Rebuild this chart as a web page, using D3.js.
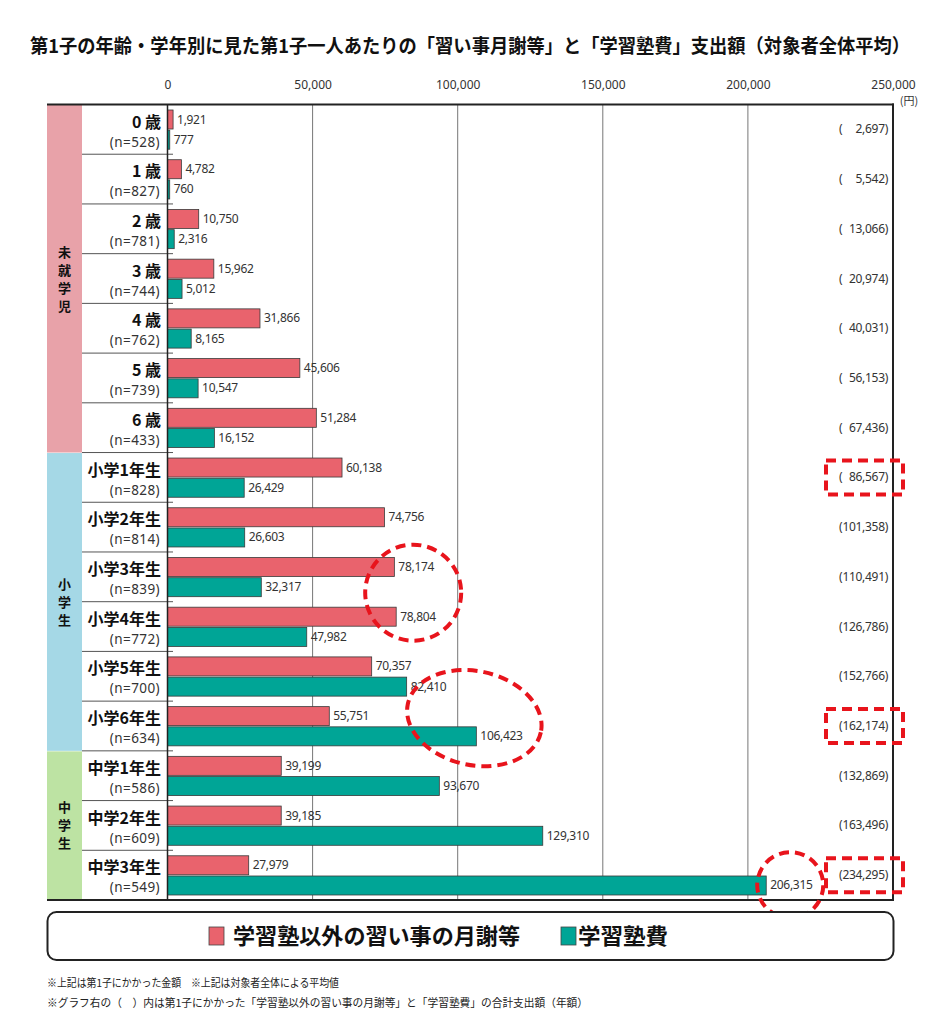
<!DOCTYPE html>
<html><head><meta charset="utf-8">
<script src="https://cdn.jsdelivr.net/npm/d3@7"></script>
<style>
body{margin:0;background:#fff;}
svg{display:block;font-family:"Noto Sans CJK JP","Noto Sans",sans-serif;}
</style></head>
<body><svg id="c" width="945" height="1024"></svg>
<script>
const categories = ["0 歳","1 歳","2 歳","3 歳","4 歳","5 歳","6 歳","小学1年生","小学2年生","小学3年生","小学4年生","小学5年生","小学6年生","中学1年生","中学2年生","中学3年生"];
const nValues = [528,827,781,744,762,739,433,828,814,839,772,700,634,586,609,549];
const lessonFees = [1921,4782,10750,15962,31866,45606,51284,60138,74756,78174,78804,70357,55751,39199,39185,27979];
const jukuFees = [777,760,2316,5012,8165,10547,16152,26429,26603,32317,47982,82410,106423,93670,129310,206315];
const totals = [2697,5542,13066,20974,40031,56153,67436,86567,101358,110491,126786,152766,162174,132869,163496,234295];
const groupNames = ["未就学児","小学生","中学生"];
const groupSizes = [7,6,3];
const tickValues = [0,50000,100000,150000,200000,250000];
const seriesNames = ["学習塾以外の習い事の月謝等","学習塾費"];
const highlightTotals = [7,12,15];

const colors = {lesson:"#e9636d", juku:"#00a596"};
const groupColors = ["#e8a2a9","#a5d8e6","#bde3a3"];

const svg = d3.select("#c");
const fmt = d3.format(",");

const x = d3.scaleLinear().domain([0,250000]).range([167.5,893]);
const y = d3.scaleBand().domain(d3.range(categories.length)).range([104.5,900]);
const ys = d3.scaleBand().domain(["lesson","juku"]).range([5.5, y.bandwidth()-5]).paddingInner(0.06);

// title
svg.append("text").attr("x",470).attr("y",53).attr("text-anchor","middle")
  .attr("font-size",19).attr("font-weight",700).attr("fill","#111")
  .attr("textLength",880).attr("lengthAdjust","spacingAndGlyphs")
  .text("第1子の年齢・学年別に見た第1子一人あたりの「習い事月謝等」と「学習塾費」支出額（対象者全体平均）");

// group column
let start = 0;
groupNames.forEach((g,i)=>{
  const y0 = y(start), y1 = y(start+groupSizes[i]-1)+y.bandwidth();
  svg.append("rect").attr("x",47).attr("y",y0+(i?0.5:0)).attr("width",35).attr("height",y1-y0-(i?0.5:0)).attr("fill",groupColors[i]);
  const chars = g.split("");
  const cy = (y0+y1)/2, lh = 18;
  chars.forEach((ch,k)=>{
    svg.append("text").attr("x",64.5).attr("y",cy+(k-(chars.length-1)/2)*lh+5)
      .attr("text-anchor","middle").attr("font-size",13).attr("font-weight",700).attr("fill","#111").text(ch);
  });
  start += groupSizes[i];
});

// gridlines
svg.append("g").selectAll("line").data(tickValues.slice(1,-1)).join("line")
  .attr("x1",d=>x(d)).attr("x2",d=>x(d)).attr("y1",104.5).attr("y2",900)
  .attr("stroke","#777").attr("stroke-width",1);

// row separators in label column + small ticks
svg.append("g").selectAll("line").data(d3.range(1,categories.length)).join("line")
  .attr("x1",82).attr("x2",173).attr("y1",d=>y(d)).attr("y2",d=>y(d))
  .attr("stroke","#555").attr("stroke-width",1);

// axis labels
const axis = d3.axisTop(x).tickValues(tickValues).tickFormat(fmt).tickSize(0).tickPadding(0);
const ag = svg.append("g").attr("transform","translate(0,89)").call(axis);
ag.select(".domain").remove();
ag.selectAll("text").attr("font-size",12).attr("fill","#333").attr("font-family","'Noto Sans',sans-serif");
svg.append("text").attr("x",909).attr("y",105).attr("text-anchor","middle").attr("font-size",11).attr("fill","#333").text("(円)");

// row labels
const rows = svg.append("g").selectAll("g").data(categories).join("g")
  .attr("transform",(d,i)=>`translate(0,${y(i)})`);
rows.append("text").attr("x",161).attr("y",23).attr("text-anchor","end")
  .attr("font-size",16).attr("font-weight",700).attr("fill","#111").text(d=>d);
rows.append("text").attr("x",160).attr("y",42).attr("text-anchor","end")
  .attr("font-size",13.5).attr("fill","#333").attr("font-family","'Noto Sans',sans-serif")
  .attr("letter-spacing",0.4)
  .text((d,i)=>`(n=${nValues[i]})`);

// bars
const bars = [
  {key:"lesson", vals:lessonFees},
  {key:"juku", vals:jukuFees}
];
bars.forEach(s=>{
  const g = svg.append("g");
  g.selectAll("rect").data(s.vals).join("rect")
    .attr("x",x(0)).attr("y",(d,i)=>y(i)+ys(s.key))
    .attr("width",d=>x(d)-x(0)).attr("height",ys.bandwidth())
    .attr("fill",colors[s.key]).attr("stroke","#3a3a3a").attr("stroke-width",0.8);
  g.selectAll("text").data(s.vals).join("text")
    .attr("x",d=>x(d)+4).attr("y",(d,i)=>y(i)+ys(s.key)+ys.bandwidth()/2+4)
    .attr("font-size",12).attr("fill","#333").attr("font-family","'Noto Sans',sans-serif")
    .attr("letter-spacing",-0.3)
    .text(d=>fmt(d));
});

// totals
svg.append("g").selectAll("text").data(totals).join("text")
  .attr("x",888).attr("y",(d,i)=>y(i)+y.bandwidth()/2+4)
  .attr("text-anchor","end").attr("font-size",12).attr("fill","#333")
  .attr("font-family","'Noto Sans',sans-serif").attr("letter-spacing",-0.3)
  .text(d=>{const s=fmt(d); return "(" + "\u2007".repeat(Math.max(0,7-s.length)) + s + ")";});

// frame lines
svg.append("line").attr("x1",x(0)).attr("x2",x(0)).attr("y1",104.5).attr("y2",900).attr("stroke","#222").attr("stroke-width",1.5);
svg.append("line").attr("x1",893).attr("x2",893).attr("y1",103.5).attr("y2",901).attr("stroke","#222").attr("stroke-width",2);
svg.append("line").attr("x1",47).attr("x2",894).attr("y1",104.5).attr("y2",104.5).attr("stroke","#222").attr("stroke-width",2);
svg.append("line").attr("x1",47).attr("x2",894).attr("y1",900).attr("y2",900).attr("stroke","#222").attr("stroke-width",2);

// red dashed annotations
const ann = svg.append("g").attr("fill","none").attr("stroke","#e8141c").attr("stroke-width",4).attr("stroke-dasharray","10,6");
highlightTotals.forEach(i=>{
  const cy = y(i)+y.bandwidth()/2;
  ann.append("rect").attr("x",826).attr("y",cy-17).attr("width",77).attr("height",34);
});
ann.append("ellipse").attr("cx",x(lessonFees[10])+17).attr("cy",y(10)-9).attr("rx",48).attr("ry",48);
ann.append("ellipse").attr("cx",x(jukuFees[12])-2).attr("cy",y(12)+17).attr("rx",68).attr("ry",47)
  .attr("transform",`rotate(12,${x(jukuFees[12])-2},${y(12)+17})`);
ann.append("ellipse").attr("cx",x(jukuFees[15])+24).attr("cy",y(15)+y.bandwidth()/2+10).attr("rx",33).attr("ry",33);

// legend
svg.append("rect").attr("x",47.5).attr("y",912).attr("width",846).attr("height",48).attr("rx",9)
  .attr("fill","#fff").attr("stroke","#222").attr("stroke-width",2);
const leg = [{key:"lesson",x:209,tx:233,w:287},{key:"juku",x:561,tx:578,w:90}];
leg.forEach((l,i)=>{
  svg.append("rect").attr("x",l.x).attr("y",927).attr("width",15).attr("height",18)
    .attr("fill",colors[l.key]).attr("stroke","#444").attr("stroke-width",0.8);
  svg.append("text").attr("x",l.tx).attr("y",944).attr("font-size",22).attr("font-weight",700).attr("fill","#111")
    .attr("textLength",l.w).attr("lengthAdjust","spacingAndGlyphs").text(seriesNames[i]);
});

// footnotes
svg.append("text").attr("x",47).attr("y",987).attr("font-size",11).attr("fill","#222")
  .attr("textLength",292).attr("lengthAdjust","spacingAndGlyphs")
  .text("※上記は第1子にかかった金額　※上記は対象者全体による平均値");
svg.append("text").attr("x",47).attr("y",1007).attr("font-size",11).attr("fill","#222")
  .attr("textLength",541).attr("lengthAdjust","spacingAndGlyphs")
  .text("※グラフ右の（　）内は第1子にかかった「学習塾以外の習い事の月謝等」と「学習塾費」の合計支出額（年額）");
</script></body></html>
